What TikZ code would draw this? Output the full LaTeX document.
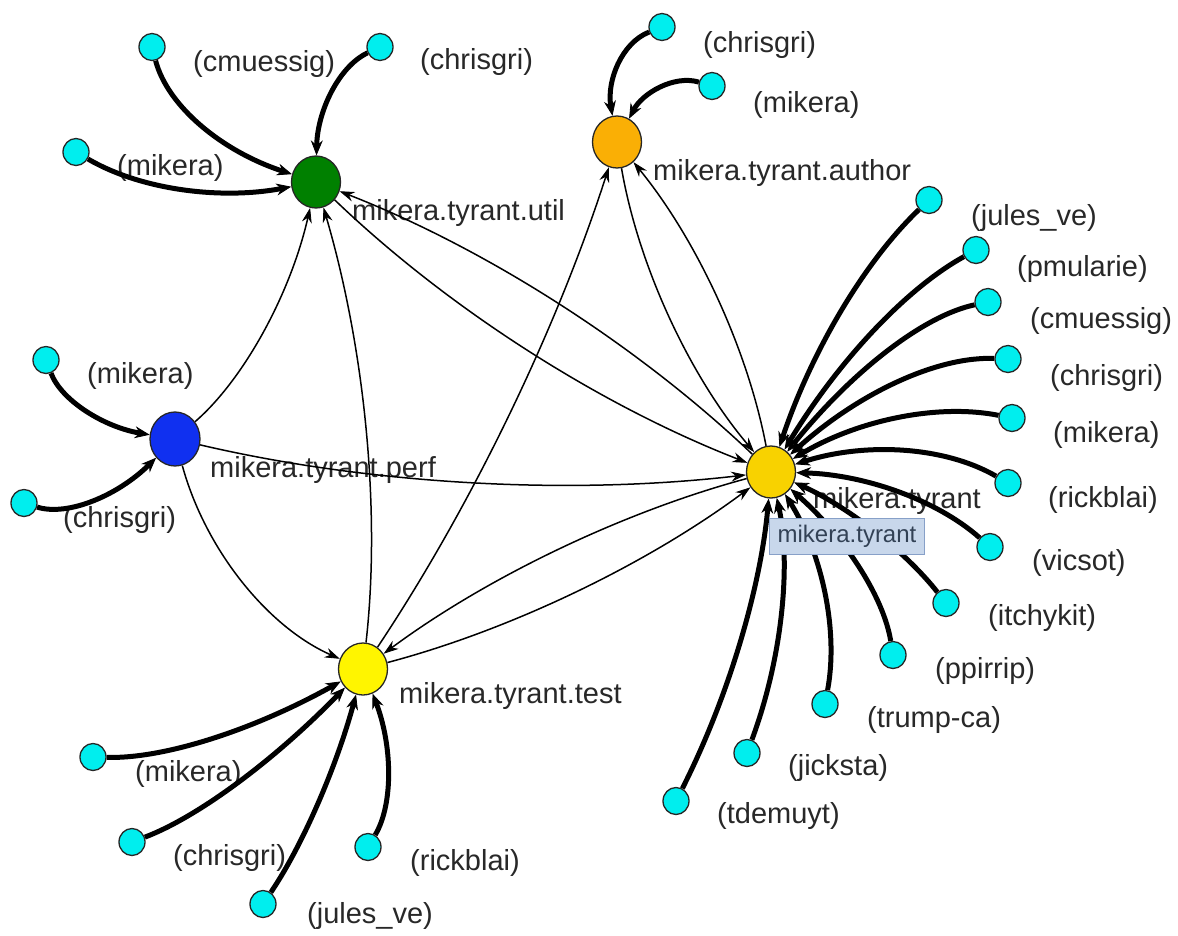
\documentclass[tikz,border=0pt]{standalone}
\usepackage{fontspec}
\setmainfont{Liberation Sans}
\usetikzlibrary{arrows.meta,shapes.geometric,calc}
\pgfdeclarelayer{canvas}
\pgfdeclarelayer{labels}
\pgfdeclarelayer{edges}
\pgfdeclarelayer{top}
\pgfsetlayers{canvas,labels,edges,main,top}

\definecolor{leafcyan}{RGB}{0,238,238}
\definecolor{utilgreen}{RGB}{0,128,0}
\definecolor{authororange}{RGB}{250,175,5}
\definecolor{perfblue}{RGB}{16,48,240}
\definecolor{coregold}{RGB}{248,210,0}
\definecolor{testyellow}{RGB}{255,245,0}
\definecolor{labelgray}{RGB}{40,40,40}
\definecolor{tipfill}{RGB}{200,215,235}
\definecolor{tipborder}{RGB}{135,160,200}
\definecolor{tiptext}{RGB}{50,65,85}

% quadratic link: style, from-node, quadratic control point, to-node
\newcommand{\quadlink}[4]{%
  \draw[#1] (#2) .. controls ($(#2)!0.6667!(#3)$) and ($(#4)!0.6667!(#3)$) .. (#4);}

\begin{document}
\begin{tikzpicture}[x=1pt,y=-1pt,
  hub/.style={ellipse, draw=black!85, line width=1.3pt, minimum width=49pt, minimum height=52pt, inner sep=0pt},
  leaf/.style={ellipse, draw=black!85, line width=1.3pt, fill=leafcyan, minimum width=26pt, minimum height=27pt, inner sep=0pt},
  dep/.style={line width=1.5pt, -{Stealth[length=15pt,width=10pt,inset=5pt,line width=0.8pt]}},
  own/.style={line width=5pt, -{Stealth[length=15pt,width=12pt,inset=5pt,line width=0.8pt]}},
  lbl/.style={anchor=base west, inner sep=0pt, text=labelgray, font=\fontsize{29}{32}\selectfont},
]
\begin{pgfonlayer}{canvas}
  \fill[white] (0,0) rectangle (1178,935);
\end{pgfonlayer}
\useasboundingbox (0,0) rectangle (1178,935);

% package nodes
\node[hub, fill=utilgreen] (util) at (316,182) {};
\node[hub, fill=authororange] (author) at (617,142) {};
\node[hub, fill=perfblue, minimum width=50pt, minimum height=54pt] (perf) at (175,439) {};
\node[hub, fill=coregold] (core) at (771,472) {};
\node[hub, fill=testyellow] (test) at (363,669) {};

% contributor nodes
\node[leaf] (uc) at (152,47) {};
\node[leaf] (ucg) at (380,47) {};
\node[leaf] (um) at (76,152) {};
\node[leaf] (ac) at (662,27) {};
\node[leaf] (am) at (712,86) {};
\node[leaf] (pm) at (46,360) {};
\node[leaf] (pc) at (24,503) {};
\node[leaf] (tm) at (93,757) {};
\node[leaf] (tc) at (132,842) {};
\node[leaf] (tj) at (263,904) {};
\node[leaf] (tr) at (368,847) {};
\node[leaf] (cj) at (929,200) {};
\node[leaf] (cp) at (976,250) {};
\node[leaf] (cc) at (988,302) {};
\node[leaf] (cg) at (1008,359) {};
\node[leaf] (cm) at (1012,418) {};
\node[leaf] (cr) at (1008,483) {};
\node[leaf] (cv) at (990,547) {};
\node[leaf] (ci) at (946,603) {};
\node[leaf] (cpp) at (893,655) {};
\node[leaf] (ct) at (825,704) {};
\node[leaf] (cji) at (747,753) {};
\node[leaf] (cd) at (676,801) {};

\begin{pgfonlayer}{labels}
  \node[lbl] (lutil) at (352,220) {mikera.tyrant.util};
  \node[lbl] (lauthor) at (653,180) {mikera.tyrant.author};
  \node[lbl] (lperf) at (210,477) {mikera.tyrant.perf};
  \node[lbl] (lcore) at (813,508) {mikera.tyrant};
  \node[lbl] (ltest) at (399,703) {mikera.tyrant.test};

  \node[lbl] (luc) at (193,71) {(cmuessig)};
  \node[lbl] (lucg) at (420,69) {(chrisgri)};
  \node[lbl] (lum) at (117,175) {(mikera)};
  \node[lbl] (lac) at (703,52) {(chrisgri)};
  \node[lbl] (lam) at (753,112) {(mikera)};
  \node[lbl] (lpm) at (87,383) {(mikera)};
  \node[lbl] (lpc) at (63,527) {(chrisgri)};
  \node[lbl] (ltm) at (135,781) {(mikera)};
  \node[lbl] (ltc) at (173,865) {(chrisgri)};
  \node[lbl] (ltj) at (307,923) {(jules\_ve)};
  \node[lbl] (ltr) at (410,870) {(rickblai)};
  \node[lbl] (lcj) at (971,225) {(jules\_ve)};
  \node[lbl] (lcp) at (1017,276) {(pmularie)};
  \node[lbl] (lcc) at (1030,328) {(cmuessig)};
  \node[lbl] (lcg) at (1050,385) {(chrisgri)};
  \node[lbl] (lcm) at (1053,442) {(mikera)};
  \node[lbl] (lcr) at (1048,507) {(rickblai)};
  \node[lbl] (lcv) at (1032,570) {(vicsot)};
  \node[lbl] (lci) at (988,625) {(itchykit)};
  \node[lbl] (lcpp) at (935,678) {(ppirrip)};
  \node[lbl] (lct) at (867,727) {(trump-ca)};
  \node[lbl] (lcji) at (788,775) {(jicksta)};
  \node[lbl] (lcd) at (717,823) {(tdemuyt)};
\end{pgfonlayer}

\begin{pgfonlayer}{edges}
  % contributions into each package
  \quadlink{own}{uc}{175.5,136.25}{util}
  \quadlink{own}{ucg}{318,76.25}{util}
  \quadlink{own}{um}{173.5,209}{util}
  \quadlink{own}{ac}{601.25,50.75}{author}
  \quadlink{own}{am}{654.75,69}{author}
  \quadlink{own}{pm}{69.25,421.25}{perf}
  \quadlink{own}{pc}{89.75,523.5}{perf}
  \quadlink{own}{tm}{200,760}{test}
  \quadlink{own}{tc}{231.75,804.25}{test}
  \quadlink{own}{tj}{323.5,814.25}{test}
  \quadlink{own}{tr}{406.75,782}{test}
  \quadlink{own}{cj}{830.5,294}{core}
  \quadlink{own}{cp}{869.75,308.5}{core}
  \quadlink{own}{cc}{890.75,322.5}{core}
  \quadlink{own}{cg}{900.75,354.75}{core}
  \quadlink{own}{cm}{898.25,395.5}{core}
  \quadlink{own}{cr}{911.25,427.25}{core}
  \quadlink{own}{cv}{909.75,475.75}{core}
  \quadlink{own}{ci}{881.75,521.75}{core}
  \quadlink{own}{cpp}{878.5,565.75}{core}
  \quadlink{own}{ct}{846,591}{core}
  \quadlink{own}{cji}{801,607.25}{core}
  \quadlink{own}{cd}{755.75,643.25}{core}

  % dependencies between packages
  \quadlink{dep}{perf}{277.75,350.25}{util}
  \quadlink{dep}{test}{389.75,433.75}{util}
  \quadlink{dep}{perf}{221,606.5}{test}
  \quadlink{dep}{perf}{467,507.25}{core}
  \quadlink{dep}{util}{514.25,372}{core}
  \quadlink{dep}{core}{571.25,282}{util}
  \quadlink{dep}{author}{649,328}{core}
  \quadlink{dep}{core}{736,287.5}{author}
  \quadlink{dep}{test}{526,424.25}{author}
  \quadlink{dep}{core}{547.5,532.25}{test}
  \quadlink{dep}{test}{585,610.25}{core}
\end{pgfonlayer}

\begin{pgfonlayer}{top}
  \node[draw=tipborder, fill=tipfill, line width=1pt, minimum width=155pt, minimum height=36pt,
        anchor=north west, inner sep=0pt, text=tiptext, font=\fontsize{24}{26}\selectfont]
        (tip) at (769,518) {mikera.tyrant};
\end{pgfonlayer}
\end{tikzpicture}
\end{document}
